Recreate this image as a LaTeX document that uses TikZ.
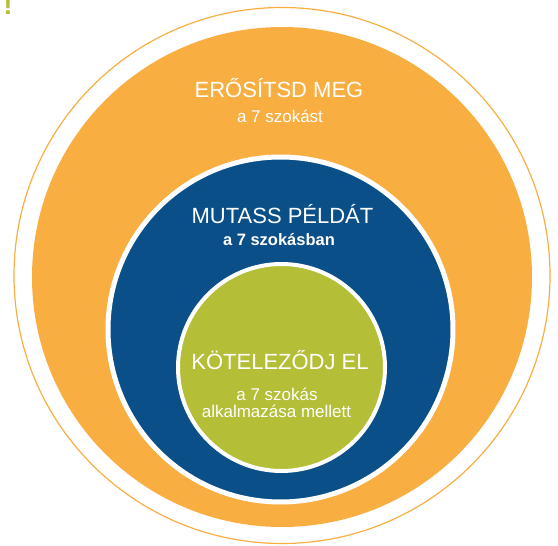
\documentclass[tikz,border=0pt]{standalone}
\usepackage{fontspec}
\setmainfont{Liberation Sans}
\usetikzlibrary{positioning}
\definecolor{ringorange}{RGB}{249,174,66}
\definecolor{ringblue}{RGB}{10,79,136}
\definecolor{ringgreen}{RGB}{180,190,55}
\tikzset{
  disc/.style={circle, inner sep=0pt, outer sep=0pt},
  headline/.style={anchor=base, text=white, inner sep=0pt, font=\fontsize{22}{26}\selectfont},
  subline/.style={anchor=base, text=white, inner sep=0pt, font=\fontsize{17}{20}\selectfont}
}

\begin{document}
\begin{tikzpicture}[x=1pt, y=-1pt]
\useasboundingbox (0,0) rectangle (558,546);

% circles, outside in
\node[disc, draw=ringorange, line width=1.2pt, minimum size=536pt] (outer) at (282,275.5) {};
\node[disc, fill=ringorange, minimum size=500pt] (reinforce) at (282,277) {};
\node[disc, fill=ringblue, draw=white, line width=5pt, minimum size=345pt] (model) at (280.5,329.5) {};
\node[disc, fill=ringgreen, draw=white, line width=4pt, minimum size=207pt] (commit) at (281.5,367.5) {};

% clipped mark in the corner
\node[anchor=base, inner sep=0pt, text=ringgreen, font=\bfseries\fontsize{28}{30}\selectfont] (mark) at (8,14) {!};

% labels
\node[headline] (reinforcetitle) at (279,97) {ERŐSÍTSD MEG};
\node[subline] (reinforcesub) at (280,122) {a 7 szokást};

\node[headline] (modeltitle) at (282.5,223) {MUTASS PÉLDÁT};
\node[subline, font=\bfseries\fontsize{16.5}{20}\selectfont] (modelsub) at (279,245) {a 7 szokásban};

\node[headline] (committitle) at (280,369) {KÖTELEZŐDJ EL};
\node[subline] (commitsub) at (277,400) {a 7 szokás};
\node[subline] (commitsubb) at (276.5,417) {alkalmazása mellett};

\end{tikzpicture}
\end{document}
